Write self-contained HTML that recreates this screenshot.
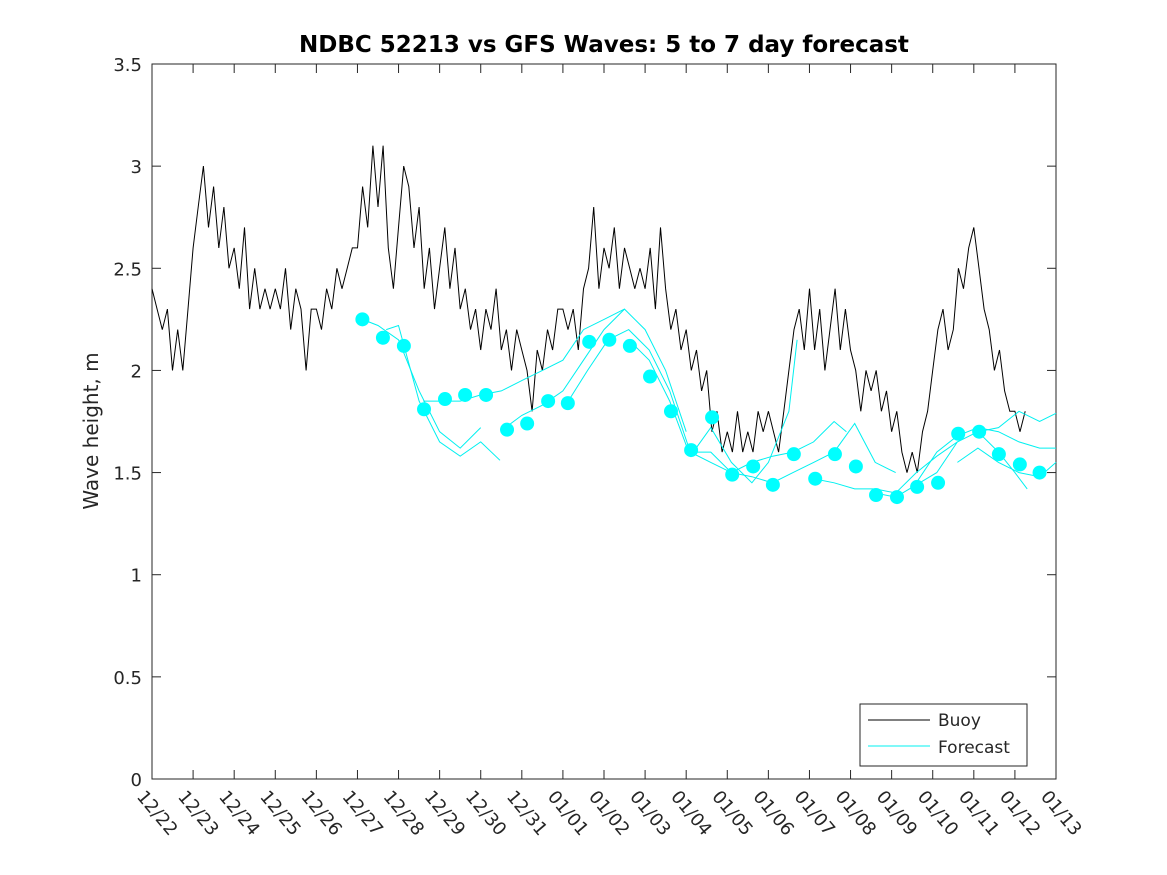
<!DOCTYPE html>
<html><head><meta charset="utf-8"><style>
html,body{margin:0;padding:0;background:#fff;}
svg{display:block;font-family:"DejaVu Sans","Liberation Sans",sans-serif;}
</style></head><body>
<svg id="chart" width="1167" height="875" viewBox="0 0 1167 875" xmlns="http://www.w3.org/2000/svg">
<rect width="1167" height="875" fill="#fff"/>
<text x="604" y="52" text-anchor="middle" font-size="23" font-weight="bold" fill="#000">NDBC 52213 vs GFS Waves: 5 to 7 day forecast</text>
<rect x="152" y="64" width="904" height="715" fill="#fff" stroke="#262626" stroke-width="1"/>
<g id="yticks"></g><g id="xticks"></g>
<g id="series"></g>
<text transform="translate(98,431) rotate(-90)" text-anchor="middle" font-size="20" fill="#262626">Wave height, m</text>
<g>
<rect x="860" y="704" width="167" height="62" fill="#fff" stroke="#262626" stroke-width="1"/>
<line x1="868" y1="720" x2="930" y2="720" stroke="#000" stroke-width="1"/>
<text x="938" y="726" font-size="17" fill="#262626">Buoy</text>
<line x1="868" y1="746" x2="930" y2="746" stroke="#00f0f0" stroke-width="1"/>
<text x="938" y="753" font-size="17" fill="#262626">Forecast</text>
</g>
</svg>
<script>
const xLabels = ["12/22","12/23","12/24","12/25","12/26","12/27","12/28","12/29","12/30","12/31","01/01","01/02","01/03","01/04","01/05","01/06","01/07","01/08","01/09","01/10","01/11","01/12","01/13"];
const yTicks = [0,0.5,1,1.5,2,2.5,3,3.5];
const yTickLabels = ["0","0.5","1","1.5","2","2.5","3","3.5"];
const buoyStep = 0.125;
const buoyValues = [
2.4,2.3,2.2,2.3,2.0,2.2,2.0,2.3,
2.6,2.8,3.0,2.7,2.9,2.6,2.8,2.5,
2.6,2.4,2.7,2.3,2.5,2.3,2.4,2.3,
2.4,2.3,2.5,2.2,2.4,2.3,2.0,2.3,
2.3,2.2,2.4,2.3,2.5,2.4,2.5,2.6,
2.6,2.9,2.7,3.1,2.8,3.1,2.6,2.4,
2.7,3.0,2.9,2.6,2.8,2.4,2.6,2.3,
2.5,2.7,2.4,2.6,2.3,2.4,2.2,2.3,
2.1,2.3,2.2,2.4,2.1,2.2,2.0,2.2,
2.1,2.0,1.8,2.1,2.0,2.2,2.1,2.3,
2.3,2.2,2.3,2.1,2.4,2.5,2.8,2.4,
2.6,2.5,2.7,2.4,2.6,2.5,2.4,2.5,
2.4,2.6,2.3,2.7,2.4,2.2,2.3,2.1,
2.2,2.0,2.1,1.9,2.0,1.7,1.8,1.6,
1.7,1.6,1.8,1.6,1.7,1.6,1.8,1.7,
1.8,1.7,1.6,1.8,2.0,2.2,2.3,2.1,
2.4,2.1,2.3,2.0,2.2,2.4,2.1,2.3,
2.1,2.0,1.8,2.0,1.9,2.0,1.8,1.9,
1.7,1.8,1.6,1.5,1.6,1.5,1.7,1.8,
2.0,2.2,2.3,2.1,2.2,2.5,2.4,2.6,
2.7,2.5,2.3,2.2,2.0,2.1,1.9,1.8,
1.8,1.7,1.8];
const dotTimes = [5.12,5.62,6.13,6.62,7.13,7.62,8.13,8.64,9.13,9.64,10.12,10.64,11.13,11.63,12.12,12.63,13.12,13.63,14.12,14.63,15.11,15.62,16.14,16.62,17.13,17.62,18.13,18.62,19.13,19.62,20.13,20.61,21.12,21.6];
const dotValues = [2.25,2.16,2.12,1.81,1.86,1.88,1.88,1.71,1.74,1.85,1.84,2.14,2.15,2.12,1.97,1.80,1.61,1.77,1.49,1.53,1.44,1.59,1.47,1.59,1.53,1.39,1.38,1.43,1.45,1.69,1.70,1.59,1.54,1.50];
const runA_t = [5.12,5.5,6.0,6.5,7.0,7.5,8.0];
const runA_v = [2.25,2.22,2.15,1.9,1.7,1.62,1.72];
const runB_t = [5.7,6.0,6.5,7.0,7.5,8.0,8.47];
const runB_v = [2.2,2.22,1.85,1.65,1.58,1.65,1.56];
const runC_t = [6.6,7.0,7.5,8.0,8.5,9.0,9.5,10.0,10.5,11.0,11.5];
const runC_v = [1.85,1.85,1.85,1.88,1.9,1.95,2.0,2.05,2.2,2.25,2.3];
const runD_t = [8.6,9.0,9.5,10.0,10.5,11.0,11.5,12.0,12.5,13.0];
const runD_v = [1.72,1.78,1.83,1.9,2.05,2.2,2.3,2.2,2.0,1.7];
const runE_t = [10.1,10.6,11.1,11.6,12.1,12.6,13.1,13.6,14.1];
const runE_v = [1.84,2.0,2.15,2.2,2.1,1.9,1.6,1.55,1.5];
const runF_t = [11.6,12.1,12.6,13.1,13.6,14.1,14.6,15.0,15.5,15.7];
const runF_v = [2.15,2.05,1.85,1.58,1.72,1.55,1.45,1.55,1.8,2.15];
const runG_t = [13.1,13.6,14.1,14.6,15.1,15.6,16.1,16.6,16.9];
const runG_v = [1.6,1.6,1.5,1.55,1.58,1.6,1.65,1.75,1.7];
const runH_t = [14.1,14.6,15.1,15.6,16.1,16.6,17.1,17.6,18.1];
const runH_v = [1.5,1.48,1.45,1.5,1.55,1.6,1.74,1.55,1.5];
const runI_t = [16.1,16.6,17.1,17.6,18.1,18.6,19.1,19.6];
const runI_v = [1.47,1.45,1.42,1.42,1.4,1.5,1.58,1.65];
const runJ_t = [17.6,18.1,18.6,19.1,19.6,20.1,20.6,21.0,21.3];
const runJ_v = [1.4,1.38,1.44,1.5,1.65,1.7,1.6,1.5,1.42];
const runK_t = [18.6,19.1,19.6,20.1,20.6,21.1,21.6,22.0];
const runK_v = [1.45,1.6,1.68,1.72,1.7,1.65,1.62,1.62];
const runL_t = [19.6,20.1,20.6,21.1,21.6,22.0];
const runL_v = [1.55,1.62,1.55,1.5,1.48,1.55];
const runM_t = [20.1,20.6,21.1,21.6,22.0];
const runM_v = [1.7,1.72,1.8,1.75,1.79];

const NS = "http://www.w3.org/2000/svg";
const X0 = 152, X1 = 1056, Y0 = 779, Y1 = 64;
function xScale(d){ return X0 + d * (X1 - X0) / (xLabels.length - 1); }
function yScale(v){ return Y0 - v * (Y0 - Y1) / 3.5; }
function mk(tag, attrs){ const e = document.createElementNS(NS, tag); for (const k in attrs) e.setAttribute(k, attrs[k]); return e; }

const yg = document.getElementById('yticks');
yTicks.forEach((v, i) => {
  const y = yScale(v);
  const t1 = mk('line', {x1: X0, x2: X0 + 9, y1: y, y2: y, stroke: '#262626'});
  
  
  yg.appendChild(t1);
  const t2 = mk('line', {x1: X1, x2: X1 - 9, y1: y, y2: y, stroke: '#262626'});
  
  
  yg.appendChild(t2);
  const lb = mk('text', {x: X0 - 10, y: y + 7, 'text-anchor': 'end', 'font-size': 18, fill: '#262626'});
  lb.textContent = yTickLabels[i];
  
  
  yg.appendChild(lb);
});
const xg = document.getElementById('xticks');
xLabels.forEach((s, i) => {
  const x = xScale(i);
  const t1 = mk('line', {x1: x, x2: x, y1: Y0, y2: Y0 - 9, stroke: '#262626'});
  
  
  xg.appendChild(t1);
  const t2 = mk('line', {x1: x, x2: x, y1: Y1, y2: Y1 + 9, stroke: '#262626'});
  
  
  xg.appendChild(t2);
  const lb = mk('text', {transform: `translate(${x - 16},${Y0 + 18}) rotate(50)`, 'font-size': 18, fill: '#262626'});
  lb.textContent = s;
  
  
  xg.appendChild(lb);
});

const sg = document.getElementById('series');
const bpts = buoyValues.map((v, i) => xScale(i * buoyStep).toFixed(1) + ',' + yScale(v).toFixed(1)).join(' ');
const buoy = mk('polyline', {points: bpts, fill: 'none', stroke: '#000', 'stroke-width': 1});


sg.appendChild(buoy);

const runs = [[runA_t,runA_v],[runB_t,runB_v],[runC_t,runC_v],[runD_t,runD_v],[runE_t,runE_v],[runF_t,runF_v],[runG_t,runG_v],[runH_t,runH_v],[runI_t,runI_v],[runJ_t,runJ_v],[runK_t,runK_v],[runL_t,runL_v],[runM_t,runM_v]];
runs.forEach(r => {
  const pts = r[0].map((t, i) => xScale(t).toFixed(1) + ',' + yScale(r[1][i]).toFixed(1)).join(' ');
  const pl = mk('polyline', {points: pts, fill: 'none', stroke: '#00f0f0', 'stroke-width': 1});
  
  
  sg.appendChild(pl);
});
dotTimes.forEach((t, i) => {
  const c = mk('circle', {cx: xScale(t), cy: yScale(dotValues[i]), r: 7, fill: '#00ffff'});
  
  
  sg.appendChild(c);
});
</script>
</body></html>
